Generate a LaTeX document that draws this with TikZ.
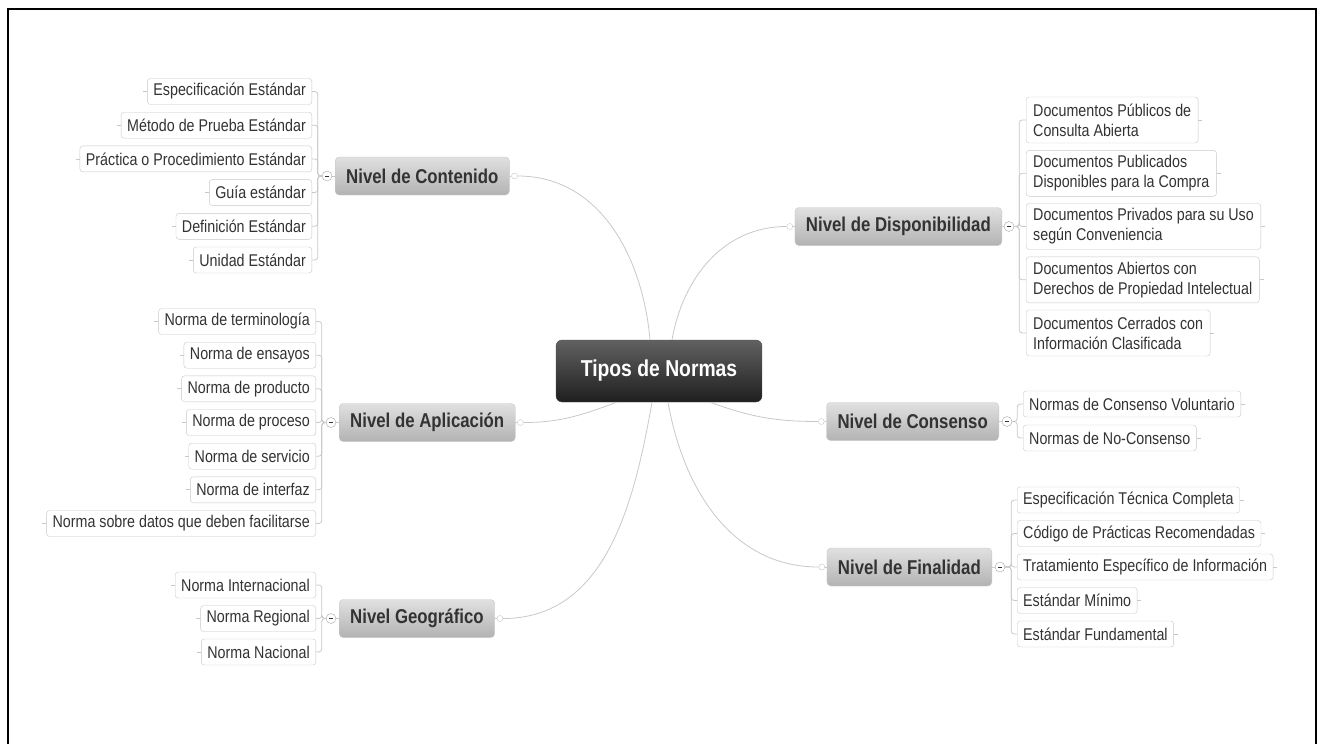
\documentclass[tikz,border=0pt]{standalone}
\usepackage{fontspec}
\setmainfont[FakeStretch=0.84]{Liberation Sans}
\definecolor{linegray}{HTML}{C8C8C8}
\definecolor{textgray}{HTML}{333333}

\begin{document}
\begin{tikzpicture}[x=1pt,y=-1pt,
	link/.style={draw=linegray, line width=0.8pt, rounded corners=3pt},
	root/.style={rounded corners=6pt, top color=black!62, bottom color=black!88, draw=black!70, text=white, font=\bfseries\fontsize{23}{27}\selectfont, minimum width=206pt, minimum height=62pt},
	level/.style={rounded corners=4pt, top color=black!12, bottom color=black!30, draw=black!22, text=textgray, font=\bfseries\fontsize{20}{24}\selectfont, minimum height=38pt, inner xsep=11pt},
	leaf/.style={rounded corners=3pt, draw=linegray, fill=white, text=textgray, font=\fontsize{17}{20}\selectfont, minimum height=26pt, inner xsep=6pt, inner ysep=2pt},
	leafii/.style={leaf, align=left, font=\fontsize{17}{20}\selectfont, minimum height=46pt, inner xsep=7pt},
	dot/.style={circle, draw=linegray, fill=white, minimum size=6pt, inner sep=0pt},
	col/.style={circle, draw=black!35, fill=white, minimum size=10pt, inner sep=0pt,
		path picture={\draw[textgray, line width=1pt] ([xshift=-2pt]path picture bounding box.center) -- ([xshift=2pt]path picture bounding box.center);}}
	]
	\useasboundingbox (0,0) rectangle (1317,744);
	%frame
	\draw[line width=2pt] (8,744) -- (8,9) -- (1315.5,9) -- (1315.5,744);

	%centre
	\node (root) at (659,371) [root]{Tipos de Normas};

	%left levels
	\node (cont) at (335,176) [level, anchor=west]{Nivel de Contenido};
	\node (apli) at (339,422.5) [level, anchor=west]{Nivel de Aplicación};
	\node (geo) at (339,618.5) [level, anchor=west]{Nivel Geográfico};
	\node (contdot) at ([xshift=5pt]cont.east) [dot]{};
	\node (aplidot) at ([xshift=5pt]apli.east) [dot]{};
	\node (geodot) at ([xshift=5pt]geo.east) [dot]{};
	\node (contcol) at (327,176) [col]{};
	\node (aplicol) at (331,422.5) [col]{};
	\node (geocol) at (331,618.5) [col]{};

	%right levels
	\node (disp) at (1002,226.5) [level, anchor=east]{Nivel de Disponibilidad};
	\node (cons) at (999,421.5) [level, anchor=east]{Nivel de Consenso};
	\node (fin) at (992,567) [level, anchor=east]{Nivel de Finalidad};
	\node (dispdot) at ([xshift=-5pt]disp.west) [dot]{};
	\node (consdot) at ([xshift=-5pt]cons.west) [dot]{};
	\node (findot) at ([xshift=-5pt]fin.west) [dot]{};
	\node (dispcol) at (1009,226.5) [col]{};
	\node (conscol) at (1007,421.5) [col]{};
	\node (fincol) at (1000,567) [col]{};

	%Contenido
	\node (cont1) at (312,91.5) [leaf, anchor=east]{Especificación Estándar};
	\node (cont2) at (312,125.2) [leaf, anchor=east]{Método de Prueba Estándar};
	\node (cont3) at (312,158.9) [leaf, anchor=east]{Práctica o Procedimiento Estándar};
	\node (cont4) at (312,192.6) [leaf, anchor=east]{Guía estándar};
	\node (cont5) at (312,226.3) [leaf, anchor=east]{Definición Estándar};
	\node (cont6) at (312,260) [leaf, anchor=east]{Unidad Estándar};

	%Aplicacion
	\node (apli1) at (316,321.5) [leaf, anchor=east]{Norma de terminología};
	\node (apli2) at (316,355.2) [leaf, anchor=east]{Norma de ensayos};
	\node (apli3) at (316,388.8) [leaf, anchor=east]{Norma de producto};
	\node (apli4) at (316,422.5) [leaf, anchor=east]{Norma de proceso};
	\node (apli5) at (316,456.2) [leaf, anchor=east]{Norma de servicio};
	\node (apli6) at (316,489.8) [leaf, anchor=east]{Norma de interfaz};
	\node (apli7) at (316,523.5) [leaf, anchor=east]{Norma sobre datos que deben facilitarse};

	%Geografico
	\node (geo1) at (316,585) [leaf, anchor=east]{Norma Internacional};
	\node (geo2) at (316,618.5) [leaf, anchor=east]{Norma Regional};
	\node (geo3) at (316,652) [leaf, anchor=east]{Norma Nacional};

	%Disponibilidad
	\node (disp1) at (1026,120) [leafii, anchor=west]{Documentos Públicos de\\Consulta Abierta};
	\node (disp2) at (1026,173.3) [leafii, anchor=west]{Documentos Publicados\\Disponibles para la Compra};
	\node (disp3) at (1026,226.5) [leafii, anchor=west]{Documentos Privados para su Uso\\según Conveniencia};
	\node (disp4) at (1026,279.8) [leafii, anchor=west]{Documentos Abiertos con\\Derechos de Propiedad Intelectual};
	\node (disp5) at (1026,333) [leafii, anchor=west]{Documentos Cerrados con\\Información Clasificada};

	%Consenso
	\node (cons1) at (1023,404) [leaf, anchor=west]{Normas de Consenso Voluntario};
	\node (cons2) at (1023,438) [leaf, anchor=west]{Normas de No-Consenso};

	%Finalidad
	\node (fin1) at (1017,500) [leaf, anchor=west]{Especificación Técnica Completa};
	\node (fin2) at (1017,533.5) [leaf, anchor=west]{Código de Prácticas Recomendadas};
	\node (fin3) at (1017,567) [leaf, anchor=west]{Tratamiento Específico de Información};
	\node (fin4) at (1017,600.5) [leaf, anchor=west]{Estándar Mínimo};
	\node (fin5) at (1017,634) [leaf, anchor=west]{Estándar Fundamental};

	%curves from the centre
	\draw[link] ([xshift=-9pt]root.north) to[out=95,in=0] (contdot.east);
	\draw[link] ([xshift=13pt]root.north) to[out=80,in=180] (dispdot.west);
	\draw[link] ([xshift=-42pt]root.south) to[out=200,in=0] (aplidot.east);
	\draw[link] ([xshift=-7pt]root.south) to[out=-100,in=0] (geodot.east);
	\draw[link] ([xshift=51pt]root.south) to[out=-20,in=180] (consdot.west);
	\draw[link] ([xshift=9pt]root.south) to[out=-80,in=180] (findot.west);

	%level to collapse circle and dot
	\foreach \n in {cont, apli, geo}{
		\draw[link] (\n.west) -- (\n col.east);
		\draw[link] (\n.east) -- (\n dot.west);
	}
	\foreach \n in {disp, cons, fin}{
		\draw[link] (\n.east) -- (\n col.west);
		\draw[link] (\n.west) -- (\n dot.east);
	}

	%brackets
	\foreach \c in {cont1, cont2, cont3, cont4, cont5, cont6}{
		\draw[link] (contcol.west) -- ++(-4,0) |- (\c.east);
		\draw[link] (\c.west) -- ++(-4,0);
	}
	\foreach \c in {apli1, apli2, apli3, apli4, apli5, apli6, apli7}{
		\draw[link] (aplicol.west) -- ++(-4,0) |- (\c.east);
		\draw[link] (\c.west) -- ++(-4,0);
	}
	\foreach \c in {geo1, geo2, geo3}{
		\draw[link] (geocol.west) -- ++(-4,0) |- (\c.east);
		\draw[link] (\c.west) -- ++(-4,0);
	}
	\foreach \c in {disp1, disp2, disp3, disp4, disp5}{
		\draw[link] (dispcol.east) -- ++(5,0) |- (\c.west);
		\draw[link] (\c.east) -- ++(4,0);
	}
	\foreach \c in {cons1, cons2}{
		\draw[link] (conscol.east) -- ++(5,0) |- (\c.west);
		\draw[link] (\c.east) -- ++(4,0);
	}
	\foreach \c in {fin1, fin2, fin3, fin4, fin5}{
		\draw[link] (fincol.east) -- ++(6,0) |- (\c.west);
		\draw[link] (\c.east) -- ++(4,0);
	}
\end{tikzpicture}
\end{document}
